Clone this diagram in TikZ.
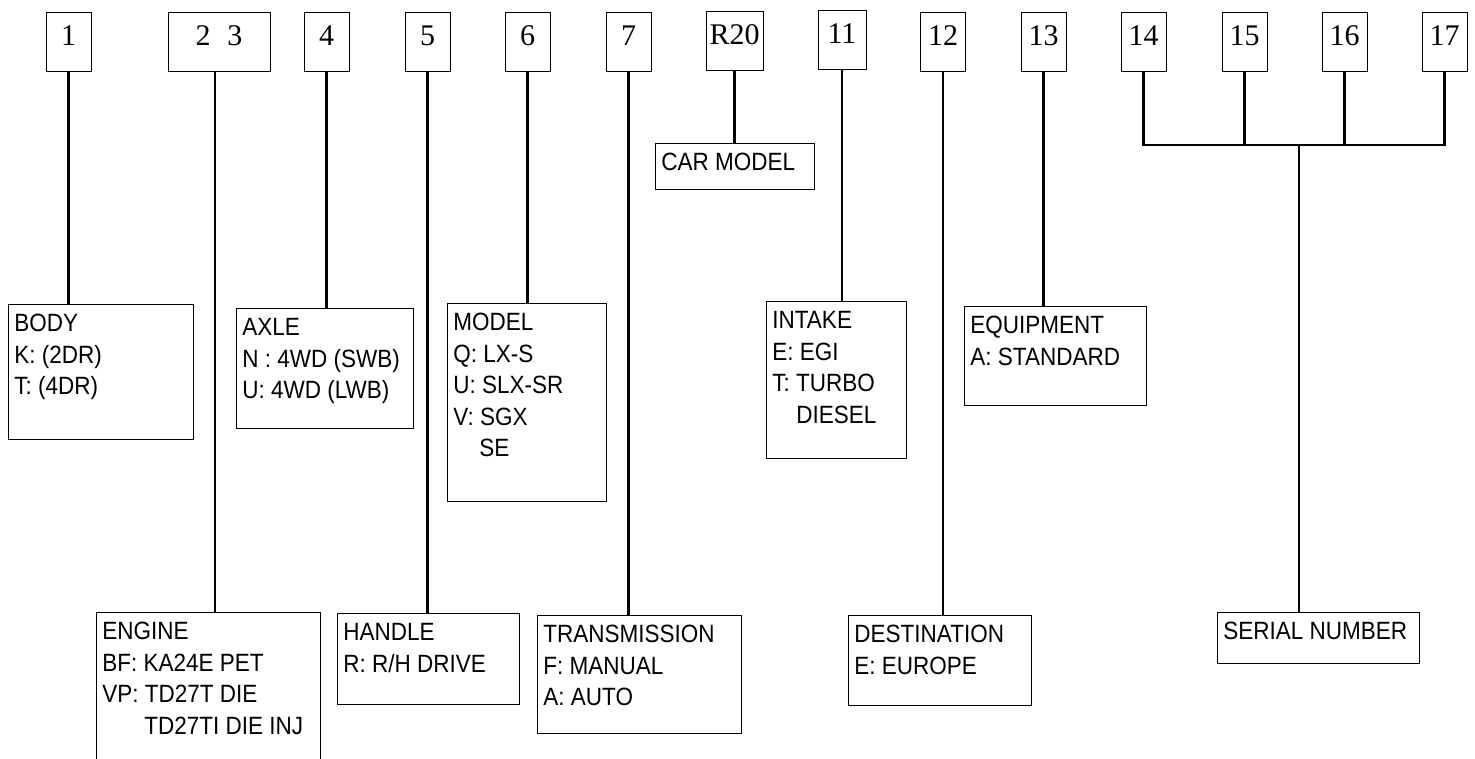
\documentclass[tikz,border=0pt]{standalone}
\usepackage{fontspec}
\newfontfamily\numfont{Liberation Serif}
\newfontfamily\lblfont[FakeStretch=0.9]{Liberation Sans}
\newcommand{\digitfont}{\numfont\fontsize{30}{36}\selectfont}
\newcommand{\infofont}{\lblfont\fontsize{25}{31.5}\selectfont}
\newcommand{\infotext}[3]{\parbox[t][#2pt][t]{#1pt}{#3}}
\newcommand{\ind}[1]{\hspace*{#1pt}}

\begin{document}
\begin{tikzpicture}[x=1pt,y=1pt,
    digit/.style={draw,line width=0.8pt,font=\digitfont,anchor=north,minimum width=45pt,inner sep=0pt,text height=33pt,text depth=26pt},
    info/.style={draw,line width=0.8pt,font=\infofont,anchor=north west,inner xsep=6pt,inner ysep=10pt},
    conn/.style={line width=2.5pt},
    stem/.style={line width=1.5pt}]
    \useasboundingbox (0,0) rectangle (1475,-758);
    \clip (0,0) rectangle (1475,-758);

    % position boxes
    \foreach \n/\x in {1/68.5,4/326.5,5/427.5,6/527.5,7/628.5,12/943,13/1043.5,14/1143.5,15/1244.5,16/1344.5,17/1444.5} {\node[digit] (n\n) at (\x,-12) {\n};}
    \node[digit,minimum width=102pt] (n23) at (219,-12) {2\hspace{17pt}3};
    \node[digit,minimum width=57pt] (r20) at (734.5,-11) {R20};
    \node[digit,minimum width=48pt] (n11) at (842,-10) {11};

    % meaning boxes
    \node[info] (body) at (8,-304) {\infotext{173}{115}{BODY\\K: (2DR)\\T: (4DR)}};
    \node[info] (engine) at (96,-612) {\infotext{212}{140}{ENGINE\\BF: KA24E PET\\VP: TD27T DIE\\\ind{42}TD27TI DIE INJ}};
    \node[info] (axle) at (236,-308) {\infotext{165}{100}{AXLE\\N : 4WD (SWB)\\U: 4WD (LWB)}};
    \node[info] (handle) at (337,-613) {\infotext{170}{71}{HANDLE\\R: R/H DRIVE}};
    \node[info] (model) at (447,-303) {\infotext{147}{178}{MODEL\\Q: LX-S\\U: SLX-SR\\V: SGX\\\ind{26}SE}};
    \node[info] (trans) at (537,-615) {\infotext{192}{98}{TRANSMISSION\\F: MANUAL\\A: AUTO}};
    \node[info] (carmodel) at (655,-143) {\infotext{147}{26}{CAR MODEL}};
    \node[info] (intake) at (766,-301) {\infotext{128}{137}{INTAKE\\E: EGI\\T: TURBO\\\ind{24}DIESEL}};
    \node[info] (dest) at (848,-615) {\infotext{171}{70}{DESTINATION\\E: EUROPE}};
    \node[info] (equip) at (964,-306) {\infotext{170}{79}{EQUIPMENT\\A: STANDARD}};
    \node[info] (serial) at (1217,-612) {\infotext{190}{31}{SERIAL NUMBER}};

    % connectors
    \coordinate (engtop) at ([xshift=-4pt]n23.south);
    \draw[conn] (n1.south) -- (n1.south |- body.north);
    \draw[conn] (engtop) -- (engtop |- engine.north);
    \draw[conn] (n4.south) -- (n4.south |- axle.north);
    \draw[conn] (n5.south) -- (n5.south |- handle.north);
    \draw[conn] (n6.south) -- (n6.south |- model.north);
    \draw[conn] (n7.south) -- (n7.south |- trans.north);
    \draw[conn] (r20.south) -- (r20.south |- carmodel.north);
    \draw[conn] (n11.south) -- (n11.south |- intake.north);
    \draw[conn] (n12.south) -- (n12.south |- dest.north);
    \draw[conn] (n13.south) -- (n13.south |- equip.north);

    % serial number bar
    \coordinate (bar) at (1299,-145);
    \draw[conn] (n14.south) |- (bar) -| (n17.south);
    \foreach \n in {15,16} {\draw[conn] (n\n.south) -- (n\n.south |- bar);}
    \draw[stem] (bar) -- (bar |- serial.north);
\end{tikzpicture}
\end{document}
